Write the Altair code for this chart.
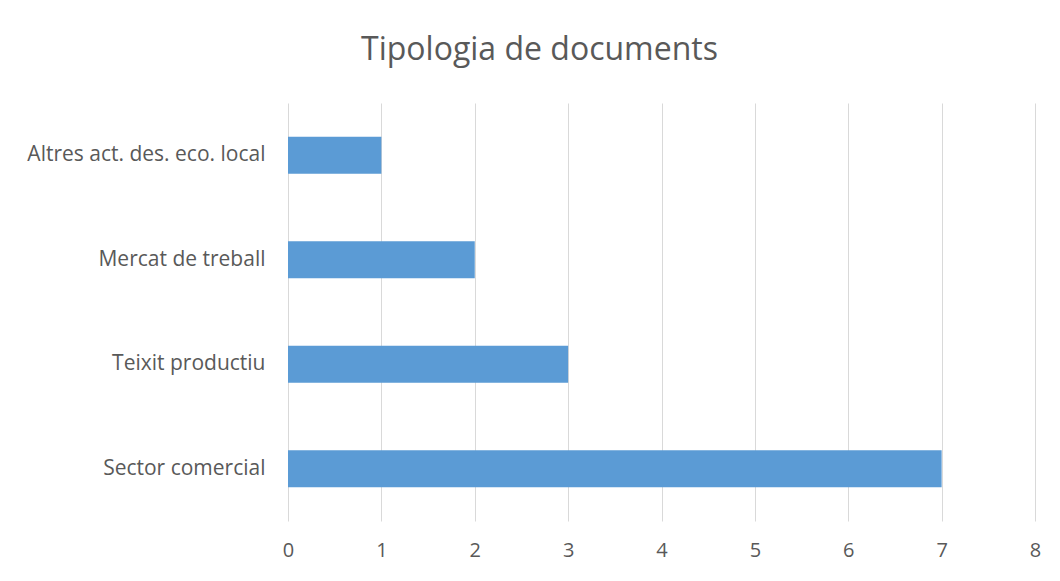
import altair as alt
import pandas as pd

categories = ["Altres act. des. eco. local", "Mercat de treball", "Teixit productiu", "Sector comercial"]
values = [1, 2, 3, 7]
x_ticks = [0, 1, 2, 3, 4, 5, 6, 7, 8]

df = pd.DataFrame({"categoria": categories, "documents": values})

FONT = "Open Sans"
TXT = "#595959"

chart = (
    alt.Chart(df)
    .mark_bar(color="#5b9bd5")
    .encode(
        x=alt.X(
            "documents:Q",
            scale=alt.Scale(domain=[0, 8], nice=False),
            axis=alt.Axis(
                values=x_ticks,
                title=None,
                domain=False,
                ticks=False,
                grid=True,
                gridColor="#d9d9d9",
                gridWidth=1,
                labelFont=FONT,
                labelFontSize=20,
                labelColor=TXT,
                labelPadding=19,
                labelFlush=False,
            ),
        ),
        y=alt.Y(
            "categoria:N",
            sort=categories,
            scale=alt.Scale(paddingInner=0.646, paddingOuter=0.323),
            axis=alt.Axis(
                title=None,
                domain=False,
                ticks=False,
                grid=False,
                labelFont=FONT,
                labelFontSize=21,
                labelColor=TXT,
                labelPadding=23,
                labelLimit=300,
            ),
        ),
    )
    .properties(
        width=747,
        height=418,
        background="white",
        title=alt.TitleParams(
            "Tipologia de documents",
            font=FONT,
            fontSize=32,
            fontWeight="normal",
            color=TXT,
            anchor="middle",
            dx=-122,
            offset=36,
        ),
        autosize=alt.AutoSizeParams(type="none"),
        padding={"left": 280, "top": 95, "right": 10, "bottom": 45},
    )
    .configure_view(strokeWidth=0, stroke="transparent")
)

chart.save("out.html", embed_options={"renderer": "svg", "actions": False})
